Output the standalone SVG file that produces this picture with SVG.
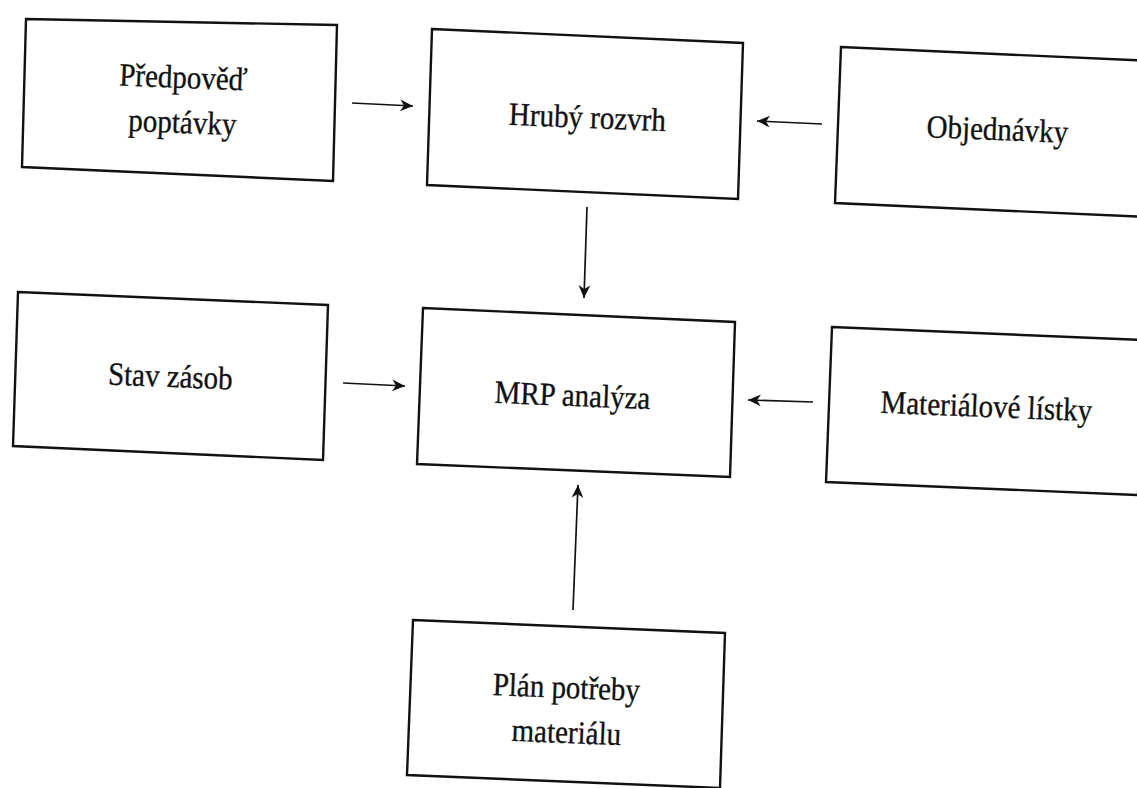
<svg xmlns="http://www.w3.org/2000/svg" width="1137" height="788" viewBox="0 0 1137 788">
  <style>
    .box { fill: #ffffff; stroke: #111111; stroke-width: 2.4; stroke-linejoin: miter; }
    .lbl { font-family: "Liberation Serif", "Times New Roman", serif; font-size: 29px; fill: #111111; stroke: #111111; stroke-width: 0.3; text-anchor: middle; }
    .conn { stroke: #111111; stroke-width: 1.7; fill: none; marker-end: url(#arrow); }
  </style>
  <defs>
    <marker id="arrow" markerUnits="userSpaceOnUse" markerWidth="16" markerHeight="16" viewBox="-13 -7 15 14" refX="0" refY="0" orient="auto">
      <path d="M0,0 L-12,-5.5 L-8.5,0 L-12,5.5 Z" fill="#111111"/>
    </marker>
  </defs>
  <rect width="1137" height="788" fill="#ffffff"/>

  <!-- MRP input/output flow -->
  <g id="node-predpoved">
    <polygon class="box" points="26,19 337,25 333,181 22,167"/>
    <text class="lbl" transform="translate(183 88) rotate(2.3) scale(1 1.12)">Předpověď</text>
    <text class="lbl" transform="translate(182 133) rotate(2.3) scale(1 1.12)">poptávky</text>
  </g>

  <g id="node-hruby-rozvrh">
    <polygon class="box" points="432,29 743,43 738,199 427,185"/>
    <text class="lbl" transform="translate(587 128) rotate(2.3) scale(1 1.12)">Hrubý rozvrh</text>
  </g>

  <g id="node-objednavky">
    <polygon class="box" points="841,47 1152,61 1147,217 835,203"/>
    <text class="lbl" transform="translate(997 140) rotate(2.3) scale(1 1.12)">Objednávky</text>
  </g>

  <g id="node-stav-zasob">
    <polygon class="box" points="18,292 328,305 323,460 13,446"/>
    <text class="lbl" transform="translate(170 387) rotate(2.3) scale(1 1.12)">Stav zásob</text>
  </g>

  <g id="node-mrp">
    <polygon class="box" points="423,308 735,322 730,477 417,464"/>
    <text class="lbl" transform="translate(572 406) rotate(2.3) scale(1 1.12)">MRP analýza</text>
  </g>

  <g id="node-materialove-listky">
    <polygon class="box" points="832,327 1143,340 1138,495 826,482"/>
    <text class="lbl" transform="translate(986 417) rotate(2.3) scale(1 1.12)">Materiálové lístky</text>
  </g>

  <g id="node-plan-potreby">
    <polygon class="box" points="413,620 725,633 720,788 407,775"/>
    <text class="lbl" transform="translate(566 698) rotate(2.3) scale(1 1.12)">Plán potřeby</text>
    <text class="lbl" transform="translate(566 743) rotate(2.3) scale(1 1.12)">materiálu</text>
  </g>

  <g id="connectors">
    <line class="conn" x1="352" y1="103" x2="413" y2="106"/>
    <line class="conn" x1="822" y1="124" x2="757" y2="121"/>
    <line class="conn" x1="587" y1="207" x2="584" y2="298"/>
    <line class="conn" x1="343" y1="383" x2="405" y2="386"/>
    <line class="conn" x1="813" y1="402" x2="748" y2="400"/>
    <line class="conn" x1="573" y1="610" x2="578" y2="485"/>
  </g>
</svg>
